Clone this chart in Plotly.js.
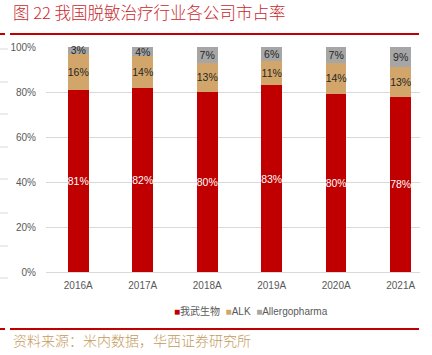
<!DOCTYPE html>
<html>
<head>
<meta charset="utf-8">
<script src="https://cdn.plot.ly/plotly-3.0.1.min.js"></script>
<style>html,body{margin:0;padding:0;background:#fff;}#chart{width:432px;height:355px;}</style>
</head>
<body>
<div id="chart"></div>
<script>
const categories = ['2016A', '2017A', '2018A', '2019A', '2020A', '2021A'];
const seriesNames = ['我武生物', 'ALK', 'Allergopharma'];
const wowo = [81, 82, 80, 83, 80, 78];
const alk = [16, 14, 13, 11, 14, 13];
const allergopharma = [3, 4, 7, 6, 7, 9];
const yTicks = [0, 20, 40, 60, 80, 100];
const titleText = '图 22 我国脱敏治疗行业各公司市占率';
const sourceText = '资料来源：米内数据，华西证券研究所';

const colors = ['#c00000', '#d2a66b', '#a6a6a6'];
const textColors = ['#ffffff', '#262626', '#262626'];
const seriesValues = [wowo, alk, allergopharma];

const W = 432, H = 355;
const M = {l: 46, r: 12, t: 47, b: 83};
const pw = W - M.l - M.r, ph = H - M.t - M.b;
const px = x => (x - M.l) / pw;
const py = y => (H - M.b - y) / ph;

const traces = seriesValues.map((vals, i) => ({
  type: 'bar',
  name: seriesNames[i],
  x: categories,
  y: vals,
  width: 0.32,
  marker: {color: colors[i], line: {width: 0}},
  text: vals.map(v => v + '%'),
  textposition: 'inside',
  insidetextanchor: 'middle',
  textangle: 0,
  textfont: {family: 'Liberation Sans, Arial, sans-serif', size: 10.5, color: textColors[i]},
  hoverinfo: 'none',
  cliponaxis: false
}));

const shapes = [];
// top and bottom red rules
[34, 329].forEach(y => {
  shapes.push({type: 'line', xref: 'paper', yref: 'paper', x0: px(10), x1: px(419), y0: py(y), y1: py(y), line: {color: '#c00000', width: 2}});
  shapes.push({type: 'line', xref: 'paper', yref: 'paper', x0: px(0), x1: px(5), y0: py(y), y1: py(y), line: {color: '#c00000', width: 2}});
});
// left margin gray dashes
[49, 82, 114, 147, 179, 213, 246, 278].forEach(y => {
  shapes.push({type: 'line', xref: 'paper', yref: 'paper', x0: px(0), x1: px(8), y0: py(y), y1: py(y), line: {color: '#d9d9d9', width: 1}});
});

const legendText = seriesNames.map((n, i) =>
  '<span style="color:' + colors[i] + '">■</span>' + n).join('  ');

const annotations = [
  {text: titleText, xref: 'paper', yref: 'paper', x: px(11), y: py(12), xanchor: 'left', yanchor: 'middle', showarrow: false,
   font: {family: 'Noto Sans CJK SC, sans-serif', size: 16.5, weight: 300, color: '#c8282d'}},
  {text: sourceText, xref: 'paper', yref: 'paper', x: px(11), y: py(340), xanchor: 'left', yanchor: 'middle', showarrow: false,
   font: {family: 'Noto Sans CJK SC, sans-serif', size: 14, weight: 300, color: '#c49a5c'}},
  {text: legendText, xref: 'paper', yref: 'paper', x: px(251), y: py(311), xanchor: 'center', yanchor: 'middle', showarrow: false,
   font: {family: 'Liberation Sans, Noto Sans CJK SC, sans-serif', size: 10, color: '#595959'}}
];

const layout = {
  width: W, height: H,
  margin: M,
  paper_bgcolor: '#ffffff', plot_bgcolor: '#ffffff',
  barmode: 'stack',
  barnorm: 'percent',
  showlegend: false,
  uniformtext: {mode: 'show', minsize: 10.5},
  xaxis: {
    type: 'category',
    range: [-0.5, 5.3],
    showgrid: false, zeroline: false, showline: false,
    ticks: '',
    ticklabelstandoff: 6,
    tickfont: {family: 'Liberation Sans, Arial, sans-serif', size: 10, color: '#595959'},
    fixedrange: true
  },
  yaxis: {
    range: [0, 100],
    tickvals: yTicks,
    ticktext: yTicks.map(v => v + '%'),
    showgrid: true, gridcolor: '#d9d9d9', gridwidth: 1,
    zeroline: true, zerolinecolor: '#d9d9d9', zerolinewidth: 1,
    showline: false, ticks: '',
    ticklabelstandoff: 9,
    tickfont: {family: 'Liberation Sans, Arial, sans-serif', size: 10, color: '#595959'},
    fixedrange: true
  },
  shapes: shapes,
  annotations: annotations
};

Plotly.newPlot('chart', traces, layout, {staticPlot: true, displayModeBar: false});
</script>
</body>
</html>
